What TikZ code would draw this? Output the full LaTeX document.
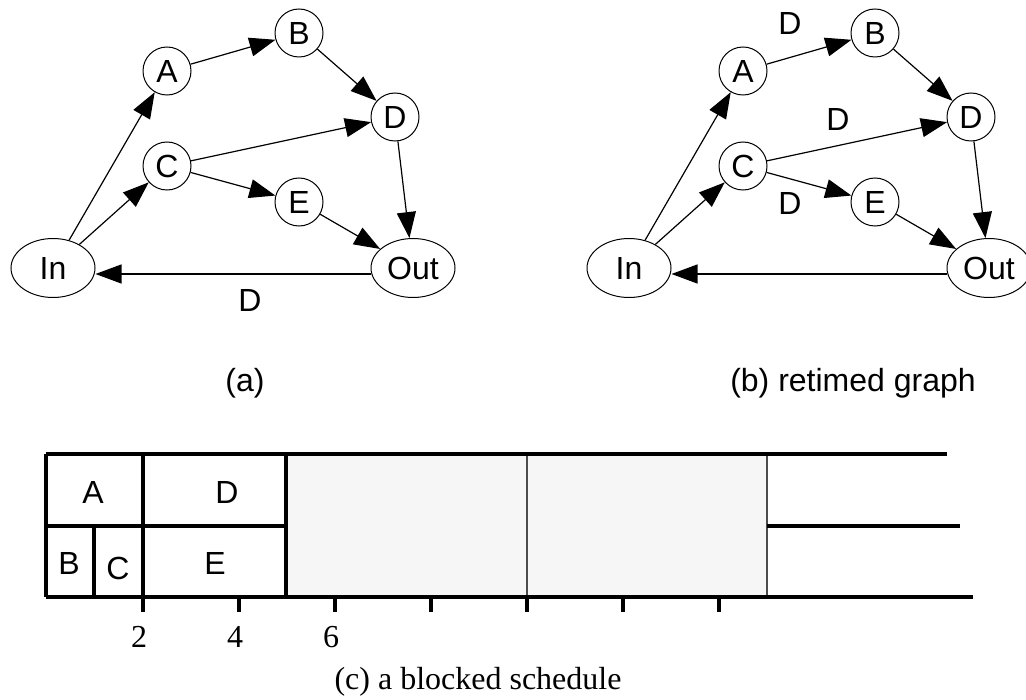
\documentclass[tikz,border=0pt]{standalone}
\usepackage{fontspec}
\setmainfont{Liberation Sans}
\newfontfamily\timesfont{Liberation Serif}
\usetikzlibrary{arrows.meta,shapes.geometric}
\definecolor{slotgray}{gray}{0.965}
\tikzset{
	vertex/.style={draw, circle, minimum size=24pt, inner sep=0pt, line width=0.5pt},
	port/.style={draw, ellipse, minimum width=42pt, minimum height=29.5pt, inner sep=0pt, line width=0.5pt},
	flow/.style={-{Triangle[length=13pt,width=9.5pt]}, line width=0.6pt},
	rule/.style={line width=2pt},
	slot/.style={fill=slotgray, draw=black!70, line width=0.7pt},
	serifnum/.style={font=\timesfont\fontsize{16}{19}\selectfont}
}

\begin{document}
\begin{tikzpicture}[x=0.5pt, y=-0.5pt, font=\fontsize{16}{19}\selectfont]
			%%%%% START %%%%%
			\useasboundingbox (0, 0) rectangle (1026, 700);
			
			% (a)
			\node[port] (In) at (53, 268) {In};
			\node[port] (Out) at (413, 268) {Out};
			\node[vertex] (A) at (167, 71) {A};
			\node[vertex] (B) at (299, 33) {B};
			\node[vertex] (C) at (167, 166) {C};
			\node[vertex] (D) at (395, 117) {D};
			\node[vertex] (E) at (299, 202) {E};
			
			\draw[flow] (In) -- (A);
			\draw[flow] (In) -- (C);
			\draw[flow] (A) -- (B);
			\draw[flow] (B) -- (D);
			\draw[flow] (C) -- (D);
			\draw[flow] (C) -- (E);
			\draw[flow] (E) -- (Out);
			\draw[flow] (D) -- (Out);
			\draw[flow] ([yshift=-3pt]Out.west) -- ([yshift=-3pt]In.east);
			\node (delayOutIn) at (250, 300) {D};
			
			\node (capA) at (245, 383) {(a)};
			
			% (b) retimed graph
			\node[port] (bIn) at (629, 268) {In};
			\node[port] (bOut) at (989, 268) {Out};
			\node[vertex] (bA) at (743, 71) {A};
			\node[vertex] (bB) at (875, 33) {B};
			\node[vertex] (bC) at (743, 166) {C};
			\node[vertex] (bD) at (971, 117) {D};
			\node[vertex] (bE) at (875, 202) {E};
			
			\draw[flow] (bIn) -- (bA);
			\draw[flow] (bIn) -- (bC);
			\draw[flow] (bA) -- (bB);
			\draw[flow] (bB) -- (bD);
			\draw[flow] (bC) -- (bD);
			\draw[flow] (bC) -- (bE);
			\draw[flow] (bE) -- (bOut);
			\draw[flow] (bD) -- (bOut);
			\draw[flow] ([yshift=-3pt]bOut.west) -- ([yshift=-3pt]bIn.east);
			\node (delayAB) at (790, 23) {D};
			\node (delayCD) at (838, 119) {D};
			\node (delayCE) at (790, 203) {D};
			
			\node (capB) at (853, 383) {(b) retimed graph};
			
			% (c) schedule
			\draw[slot] (286, 454) rectangle (527, 597);
			\draw[slot] (527, 454) rectangle (767, 597);
			
			\draw[rule] (46, 454) -- (947, 454);
			\draw[rule] (46, 526) -- (286, 526);
			\draw[rule] (767, 526) -- (960, 526);
			\draw[rule] (46, 597) -- (973, 597);
			
			\draw[rule] (46, 454) -- (46, 597);
			\draw[rule] (94, 526) -- (94, 597);
			\draw[rule] (143, 454) -- (143, 612);
			\draw[rule] (286, 454) -- (286, 597);
			\foreach \x in {239, 335, 431, 527, 623, 719}
				\draw[rule] (\x, 597) -- (\x, 612);
			
			\node (taskA) at (93, 492) {A};
			\node (taskD) at (227, 492) {D};
			\node (taskB) at (69, 563) {B};
			\node (taskC) at (118, 568) {C};
			\node (taskE) at (215, 563) {E};
			
			\node[serifnum] (tick2) at (139, 637) {2};
			\node[serifnum] (tick4) at (235, 637) {4};
			\node[serifnum] (tick6) at (331, 637) {6};
			
			\node[serifnum] (capC) at (478, 682) {(c) a blocked schedule};
			
			%%%%% END %%%%%
\end{tikzpicture}
\end{document}
